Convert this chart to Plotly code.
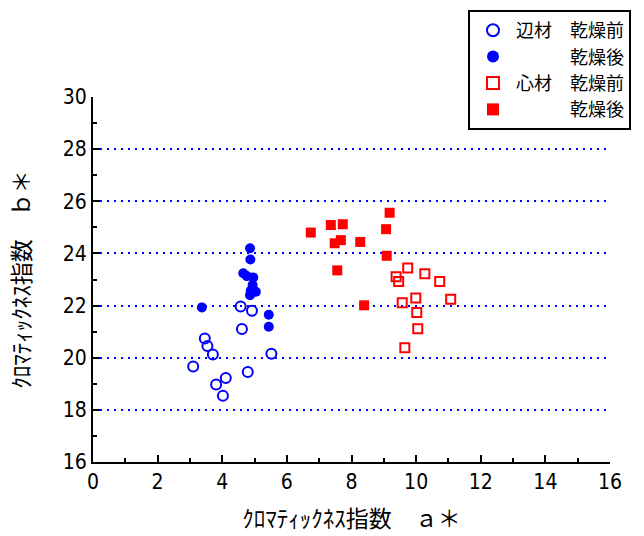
import plotly.graph_objects as go

# Sapwood (辺材) before / after drying
sap_before_a = [4.57, 4.92, 4.61, 3.46, 3.54, 3.71, 5.52, 3.10, 4.79, 4.11, 3.81, 4.02]
sap_before_b = [21.96, 21.80, 21.10, 20.74, 20.45, 20.12, 20.15, 19.66, 19.45, 19.22, 18.97, 18.54]
sap_after_a = [4.86, 4.87, 4.65, 4.76, 4.96, 4.94, 4.88, 5.04, 4.86, 3.37, 5.44, 5.44]
sap_after_b = [24.20, 23.77, 23.24, 23.13, 23.08, 22.79, 22.57, 22.53, 22.40, 21.93, 21.65, 21.19]

# Heartwood (心材) before / after drying
heart_before_a = [9.74, 10.27, 9.38, 9.46, 10.73, 9.99, 11.07, 9.57, 10.02, 10.05, 9.65]
heart_before_b = [23.44, 23.22, 23.11, 22.92, 22.92, 22.29, 22.24, 22.11, 21.73, 21.11, 20.38]
heart_after_a = [9.18, 7.36, 7.73, 6.74, 9.07, 7.67, 7.48, 8.27, 9.09, 7.56, 8.39]
heart_after_b = [25.56, 25.09, 25.12, 24.80, 24.93, 24.51, 24.39, 24.44, 23.91, 23.35, 22.01]

x_ticks = list(range(0, 17, 2))
y_ticks = list(range(16, 31, 2))

BLUE = "#0000ff"
RED = "#ff0000"
JP = "Noto Sans CJK JP"
NUM = "DejaVu Sans Condensed, DejaVu Sans, sans-serif"

fig = go.Figure()
fig.add_trace(go.Scatter(
    x=sap_before_a, y=sap_before_b, mode="markers", name="辺材　乾燥前",
    marker=dict(symbol="circle-open", size=10, color=BLUE, line=dict(width=2, color=BLUE))))
fig.add_trace(go.Scatter(
    x=sap_after_a, y=sap_after_b, mode="markers", name="　　　乾燥後",
    marker=dict(symbol="circle", size=10, color=BLUE)))
fig.add_trace(go.Scatter(
    x=heart_before_a, y=heart_before_b, mode="markers", name="心材　乾燥前",
    marker=dict(symbol="square-open", size=9, color=RED, line=dict(width=2, color=RED))))
fig.add_trace(go.Scatter(
    x=heart_after_a, y=heart_after_b, mode="markers", name="　　　乾燥後",
    marker=dict(symbol="square", size=10, color=RED)))

axis_common = dict(
    showline=True, linecolor="black", linewidth=2, mirror=False,
    ticks="inside", ticklen=7, tickwidth=1.5, tickcolor="black",
    minor=dict(ticks="inside", ticklen=4, tickwidth=1.5, tickcolor="black", dtick=1, showgrid=False),
    tickfont=dict(family=NUM, size=21, color="black"),
    zeroline=False, automargin=False,
)

# trailing ideographic spaces nudge each title off-centre
fig.update_xaxes(
    range=[0, 16], tickvals=x_ticks, showgrid=False,
    title=dict(text="ｸﾛﾏﾃｨｯｸﾈｽ指数　ａ＊　　", font=dict(family=JP, size=23, color="black"), standoff=18),
    **axis_common)
fig.update_yaxes(
    range=[16, 30], tickvals=y_ticks, showgrid=True,
    gridcolor=BLUE, griddash="2px,5px", gridwidth=1.5,
    title=dict(text="ｸﾛﾏﾃｨｯｸﾈｽ指数　ｂ＊　　", font=dict(family=JP, size=23, color="black"), standoff=26),
    **axis_common)

fig.update_layout(
    width=644, height=536,
    margin=dict(l=93, r=34, t=97, b=74, autoexpand=False),
    plot_bgcolor="white", paper_bgcolor="white",
    showlegend=True,
    legend=dict(
        xref="container", yref="container",
        x=468 / 644, y=1 - 10 / 536, xanchor="left", yanchor="top",
        bordercolor="black", borderwidth=2, bgcolor="white",
        font=dict(family=JP, size=18, color="black"),
        itemsizing="constant", itemwidth=36,
    ),
)

fig.write_html("out.html")
